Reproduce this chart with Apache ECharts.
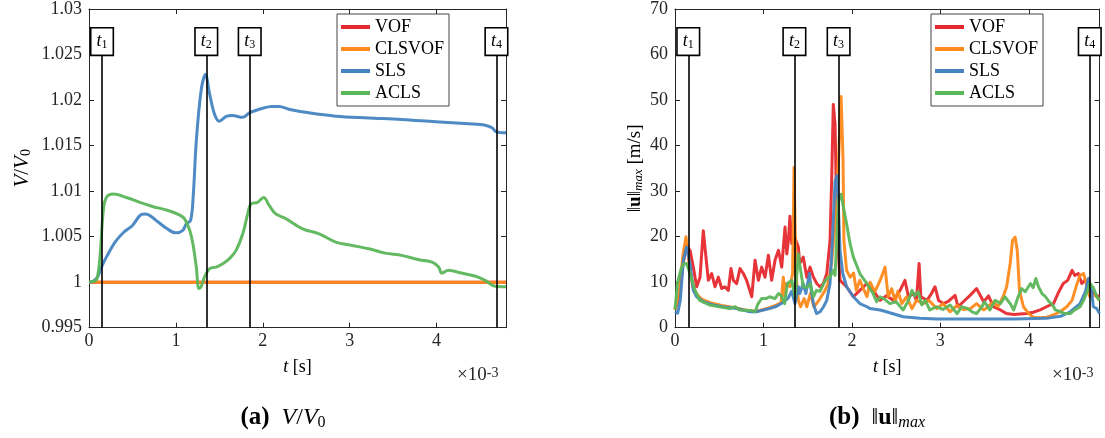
<!DOCTYPE html>
<html><head><meta charset="utf-8">
<script src="https://cdn.jsdelivr.net/npm/echarts@6/dist/echarts.min.js"></script>
<style>html,body{margin:0;padding:0;background:#fff}#c{width:1105px;height:438px}</style>
</head><body><div id="c"></div>
<script>
// ---------- data (t in units of 1e-3 s) ----------
const seriesNames = ['VOF', 'CLSVOF', 'SLS', 'ACLS'];
const xTicksLabel = '×10';

// event markers t1..t4
const tMarks = [0.15, 1.35, 1.85, 4.69];

// (a) V/V0
const volFlatT = [0, 4.8];
const volVOF = [1.0, 1.0];
const volCLSVOF = [1.0, 1.0];
const volSLST = [0, 0.05, 0.1, 0.15, 0.2, 0.3, 0.4, 0.5, 0.6, 0.65, 0.7, 0.8, 0.9, 1.0, 1.08, 1.12, 1.17, 1.2, 1.235, 1.29, 1.34, 1.39, 1.445, 1.5, 1.58, 1.65, 1.77, 1.846, 2.0, 2.1, 2.19, 2.3, 2.53, 2.84, 3.22, 3.6, 3.99, 4.37, 4.56, 4.64, 4.69, 4.8];
const volSLS = [1.0, 1.0001, 1.0006, 1.0018, 1.00275, 1.0044, 1.00548, 1.00622, 1.00742, 1.0075, 1.00731, 1.00658, 1.00586, 1.00542, 1.0057, 1.0064, 1.0068, 1.0095, 1.0155, 1.021, 1.0228, 1.0206, 1.01845, 1.01768, 1.0182, 1.0183, 1.0181, 1.01859, 1.0191, 1.0193, 1.0193, 1.0190, 1.0186, 1.01823, 1.01804, 1.01787, 1.01761, 1.01739, 1.01724, 1.01695, 1.0165, 1.0164];
const volACLST = [0, 0.05, 0.09, 0.126, 0.164, 0.2, 0.28, 0.43, 0.585, 0.74, 0.89, 1.04, 1.10, 1.16, 1.196, 1.235, 1.265, 1.29, 1.33, 1.39, 1.464, 1.54, 1.617, 1.693, 1.77, 1.827, 1.866, 1.94, 2.01, 2.076, 2.15, 2.27, 2.46, 2.65, 2.84, 3.03, 3.22, 3.41, 3.6, 3.8, 3.95, 4.025, 4.06, 4.14, 4.29, 4.45, 4.56, 4.675, 4.8];
const volACLS = [1.0, 1.0001, 1.0003, 1.00275, 1.0078, 1.0093, 1.00967, 1.0093, 1.00876, 1.00829, 1.00793, 1.0074, 1.00695, 1.00567, 1.00422, 1.00166, 0.9993, 0.99948, 1.00057, 1.00149, 1.00166, 1.00203, 1.00258, 1.00349, 1.00531, 1.00749, 1.0086, 1.00876, 1.0093, 1.0084, 1.0075, 1.00695, 1.00586, 1.00531, 1.0044, 1.00403, 1.00367, 1.00319, 1.00294, 1.00247, 1.00221, 1.00166, 1.001, 1.0013, 1.001, 1.00065, 1.0002, 0.99955, 0.9995];

// (b) ||u||max [m/s]
const uVOFT = [0, 0.05, 0.09, 0.13, 0.17, 0.207, 0.245, 0.283, 0.32, 0.35, 0.377, 0.415, 0.452, 0.49, 0.528, 0.565, 0.603, 0.633, 0.66, 0.698, 0.735, 0.773, 0.81, 0.868, 0.905, 0.943, 0.98, 1.018, 1.056, 1.093, 1.131, 1.17, 1.207, 1.244, 1.264, 1.282, 1.30, 1.32, 1.35, 1.395, 1.41, 1.45, 1.49, 1.527, 1.565, 1.603, 1.64, 1.678, 1.716, 1.753, 1.773, 1.79, 1.81, 1.83, 1.866, 1.94, 2.017, 2.09, 2.17, 2.206, 2.24, 2.32, 2.39, 2.47, 2.545, 2.60, 2.64, 2.70, 2.73, 2.76, 2.78, 2.85, 2.90, 2.94, 2.98, 3.035, 3.09, 3.167, 3.2, 3.26, 3.337, 3.41, 3.49, 3.545, 3.6, 3.68, 3.75, 3.83, 3.9, 3.98, 4.05, 4.13, 4.2, 4.28, 4.34, 4.39, 4.44, 4.49, 4.52, 4.56, 4.60, 4.64, 4.675, 4.73, 4.8];
const uVOF = [4, 7, 14, 18, 17.0, 13.3, 9.0, 11.1, 21.3, 15.5, 10.4, 11.9, 9.0, 11.1, 8.6, 9.0, 8.2, 13.0, 10.4, 9.7, 13.0, 11.9, 10.4, 6.8, 14.8, 10.4, 13.3, 11.1, 15.9, 10.4, 14.8, 17.0, 13.3, 22.1, 16.2, 19.1, 24.5, 18.5, 20, 17.7, 14.1, 15.5, 11.1, 13.3, 11.1, 9.7, 9.0, 9.7, 11.9, 19.1, 33.7, 49.0, 44.6, 22.8, 10.4, 9.0, 6.8, 8.2, 9.7, 8.6, 8.2, 6.0, 7.0, 6.0, 8.2, 10.4, 6.8, 7.5, 6.0, 14.1, 6.8, 6.0, 7.5, 9.0, 6.0, 5.3, 5.8, 7.1, 4.6, 5.7, 7.1, 8.6, 5.7, 7.0, 4.6, 3.9, 3.1, 2.9, 3.0, 3.1, 3.4, 3.9, 4.6, 5.3, 7.9, 9.7, 10.4, 12.6, 11.5, 11.9, 9.7, 10.5, 8.6, 7.5, 6.8];
const uCLSVOFT = [0, 0.05, 0.09, 0.124, 0.16, 0.2, 0.25, 0.3, 0.4, 0.55, 0.7, 0.85, 0.92, 1.0, 1.1, 1.15, 1.2, 1.225, 1.24, 1.26, 1.30, 1.33, 1.346, 1.36, 1.37, 1.395, 1.42, 1.46, 1.49, 1.53, 1.57, 1.6, 1.64, 1.697, 1.73, 1.77, 1.81, 1.85, 1.878, 1.9, 1.91, 1.94, 1.98, 2.02, 2.05, 2.09, 2.17, 2.206, 2.26, 2.32, 2.375, 2.41, 2.45, 2.49, 2.52, 2.565, 2.62, 2.68, 2.73, 2.81, 2.87, 2.96, 3.03, 3.11, 3.19, 3.26, 3.34, 3.41, 3.49, 3.52, 3.6, 3.65, 3.71, 3.75, 3.79, 3.816, 3.846, 3.87, 3.895, 3.94, 4.0, 4.05, 4.13, 4.2, 4.28, 4.355, 4.43, 4.49, 4.54, 4.58, 4.62, 4.66, 4.69, 4.75, 4.8];
const uCLSVOF = [4, 8, 16, 20.0, 14, 9, 7.3, 6.3, 5.5, 4.8, 4.3, 3.7, 3.6, 4.0, 4.6, 5.0, 5.5, 11.1, 7, 9.7, 9.0, 12, 35.2, 20, 11.1, 6.0, 4.6, 6.4, 4.6, 7.5, 4.6, 5.3, 6.4, 8.2, 9.7, 14.1, 22.8, 37.3, 50.8, 37, 19.1, 12.6, 11.1, 12, 8.2, 10.4, 6.8, 10.0, 7.9, 10.4, 13.3, 6.8, 8.6, 5.7, 8.0, 5.3, 6.8, 4.2, 6.0, 5.3, 6.0, 4.2, 5.3, 3.5, 4.9, 4.0, 4.2, 5.3, 3.9, 4.3, 5.7, 4.6, 6.8, 9.0, 14.1, 19.1, 19.9, 17.0, 8.2, 4.6, 3.1, 2.3, 2.2, 2.3, 2.8, 3.5, 4.6, 6.0, 9.3, 11.5, 11.9, 9.0, 6.8, 7.2, 6.0];
const uSLST = [0, 0.03, 0.06, 0.094, 0.13, 0.17, 0.207, 0.245, 0.32, 0.433, 0.547, 0.70, 0.848, 0.92, 1.0, 1.07, 1.15, 1.225, 1.28, 1.32, 1.357, 1.395, 1.41, 1.45, 1.48, 1.52, 1.54, 1.565, 1.60, 1.64, 1.68, 1.716, 1.753, 1.78, 1.81, 1.83, 1.848, 1.866, 1.897, 1.94, 2.017, 2.09, 2.17, 2.206, 2.32, 2.39, 2.58, 2.77, 2.96, 3.34, 3.83, 4.2, 4.36, 4.47, 4.58, 4.64, 4.675, 4.71, 4.73, 4.77, 4.8];
const uSLS = [3.5, 3.2, 6, 14.8, 17.7, 14.1, 8.2, 6.8, 5.7, 5.0, 4.6, 4.2, 3.5, 3.5, 3.9, 4.2, 4.7, 5.6, 6.5, 8.0, 5.3, 9.0, 7.5, 9.7, 7.5, 11.9, 8.2, 5.3, 3.1, 3.5, 4.6, 6.0, 9.7, 19.1, 32.2, 33.4, 26.4, 17.0, 11.9, 9.0, 6.8, 5.3, 4.6, 4.2, 3.9, 3.5, 2.4, 2.05, 1.9, 1.9, 1.9, 2.05, 2.5, 3.5, 5.3, 7.9, 10.8, 8.2, 4.6, 4.2, 3.1];
const uACLST = [0, 0.03, 0.07, 0.1, 0.12, 0.13, 0.17, 0.226, 0.28, 0.39, 0.5, 0.62, 0.68, 0.73, 0.85, 0.905, 0.94, 0.98, 1.03, 1.07, 1.13, 1.17, 1.2, 1.24, 1.27, 1.32, 1.357, 1.395, 1.42, 1.45, 1.49, 1.53, 1.565, 1.6, 1.64, 1.68, 1.716, 1.753, 1.79, 1.81, 1.85, 1.878, 1.90, 1.94, 1.98, 2.017, 2.09, 2.17, 2.24, 2.28, 2.32, 2.36, 2.43, 2.5, 2.58, 2.64, 2.68, 2.71, 2.75, 2.79, 2.83, 2.88, 2.96, 3.03, 3.11, 3.19, 3.24, 3.3, 3.36, 3.41, 3.47, 3.5, 3.56, 3.62, 3.68, 3.73, 3.79, 3.83, 3.88, 3.92, 3.96, 4.02, 4.05, 4.08, 4.11, 4.15, 4.19, 4.23, 4.27, 4.3, 4.36, 4.41, 4.47, 4.52, 4.58, 4.62, 4.66, 4.69, 4.73, 4.77, 4.8];
const uACLS = [4, 10, 13, 14.1, 14.5, 14.1, 11.9, 8.2, 6.0, 5.0, 4.6, 4.2, 4.6, 3.9, 3.8, 3.5, 5.3, 6.4, 6.4, 6.8, 6.4, 7.5, 7.1, 5.3, 9.7, 10.4, 6.8, 16.2, 12.6, 9.0, 8.8, 9.7, 6.8, 8.2, 8.0, 9.7, 10.8, 11.1, 12.6, 11.5, 27.9, 29.3, 26.9, 22.8, 18.4, 15.5, 11.9, 9.7, 7.5, 5.7, 6.8, 6.4, 5.3, 5.7, 3.9, 6.0, 8.2, 7.0, 7.9, 5.0, 6.0, 3.9, 4.6, 4.0, 5.0, 3.1, 4.6, 4.3, 3.5, 3.1, 4.6, 5.7, 3.9, 6.0, 5.3, 6.8, 5.3, 3.9, 6.8, 8.6, 7.9, 9.7, 8.8, 10.8, 9.0, 7.5, 6.8, 5.7, 5.0, 3.9, 3.5, 3.1, 3.1, 3.9, 4.6, 6.0, 7.9, 9.7, 8.8, 6.8, 6.0];

// ---------- styling ----------
const FONT = '"Liberation Serif","DejaVu Serif",serif';
const AX = '#262626';
const COLORS = {VOF: '#e6292e', CLSVOF: '#ff8a1c', SLS: '#4584c0', ACLS: '#5cb65a'};
const zip = (t, v) => t.map((x, i) => [x, v[i]]);

const RICH = {
  i: {fontFamily: FONT, fontStyle: 'italic', fontSize: 18, color: '#000'},
  s: {fontFamily: FONT, fontSize: 12, verticalAlign: 'bottom', lineHeight: 10, color: '#000'},
  si: {fontFamily: FONT, fontStyle: 'italic', fontSize: 13, verticalAlign: 'bottom', lineHeight: 10, color: '#000'},
  b: {fontFamily: FONT, fontWeight: 'bold', fontSize: 19, color: '#000'},
  ii: {fontFamily: FONT, fontStyle: 'italic', fontSize: 21, color: '#000'},
  ss: {fontFamily: FONT, fontSize: 14, verticalAlign: 'bottom', lineHeight: 11, color: '#000'},
  n: {fontFamily: FONT, fontSize: 21, color: '#000'}
};

function xAx(gi, pos, show) {
  return {type: 'value', gridIndex: gi, position: pos, min: 0, max: 4.8, interval: 1,
    name: show ? '{i|t} [s]' : '', nameLocation: 'middle', nameGap: 31,
    nameTextStyle: {fontFamily: FONT, fontSize: 18, color: '#000', rich: RICH},
    axisLine: {show: true, onZero: false, lineStyle: {color: AX, width: 1}},
    axisTick: {show: true, inside: true, length: 5, lineStyle: {color: AX}},
    axisLabel: {show: show, margin: 5, fontFamily: 'Liberation Serif', fontSize: 18, color: AX, showMaxLabel: false},
    splitLine: {show: false}};
}
function yAx(gi, pos, show, min, max, iv, name, gap) {
  return {type: 'value', gridIndex: gi, position: pos, min: min, max: max, interval: iv,
    name: show ? name : '', nameLocation: 'middle', nameGap: gap,
    nameTextStyle: {fontFamily: FONT, fontSize: 19, color: '#000', rich: RICH},
    axisLine: {show: true, onZero: false, lineStyle: {color: AX, width: 1}},
    axisTick: {show: true, inside: true, length: 5, lineStyle: {color: AX}},
    axisLabel: {show: show, margin: 7, fontFamily: 'Liberation Serif', fontSize: 18, color: AX},
    splitLine: {show: false}};
}
function line(name, data, xi, yi, smooth) {
  return {type: 'line', name: name, data: data, xAxisIndex: xi, yAxisIndex: yi,
    showSymbol: false, symbol: 'none', smooth: smooth, color: COLORS[name],
    lineStyle: {width: 3, color: COLORS[name], join: 'round', opacity: 0.95},
    animation: false, z: 2};
}
function marks(xi, yi, yMin, yTop) {
  return {type: 'line', name: '_marks', data: [], xAxisIndex: xi, yAxisIndex: yi, z: 10,
    markLine: {silent: true, symbol: ['none', 'none'], animation: false,
      lineStyle: {color: '#000', width: 1.6, type: 'solid'},
      label: {show: true, position: 'end', distance: 0,
        formatter: p => '{i|t}{s|' + (p.name || (p.dataIndex + 1)) + '}',
        backgroundColor: '#fff', borderColor: '#000', borderWidth: 1.6,
        padding: [4, 5, 4, 5], fontFamily: FONT, fontSize: 18, color: '#000', rich: RICH},
      emphasis: {disabled: true},
      data: tMarks.map((t, i) => [{name: String(i + 1), coord: [t, yMin]}, {name: String(i + 1), coord: [t, yTop]}])
    }};
}
function legend(left) {
  return {data: seriesNames, left: left, top: 14, orient: 'vertical', selectedMode: false,
    backgroundColor: '#fff', borderColor: '#444', borderWidth: 1, padding: [3, 5, 3, 4],
    itemGap: 2, itemWidth: 29, itemHeight: 4, icon: 'rect',
    textStyle: {fontFamily: FONT, fontSize: 18, color: '#000', lineHeight: 20}};
}

const chart = echarts.init(document.getElementById('c'), null, {renderer: 'canvas'});
chart.setOption({
  animation: false,
  backgroundColor: '#fff',
  grid: [{left: 89, top: 7, width: 417, height: 320.7}, {left: 675, top: 7, width: 424.5, height: 320.7}],
  xAxis: [xAx(0, 'bottom', true), xAx(0, 'top', false), xAx(1, 'bottom', true), xAx(1, 'top', false)],
  yAxis: [
    yAx(0, 'left', true, 0.995, 1.03, 0.005, '{ii|V}{n|/}{ii|V}{ss|0}', 56),
    yAx(0, 'right', false, 0.995, 1.03, 0.005, '', 0),
    yAx(1, 'left', true, 0, 70, 10, '‖{b|u}‖{si|max} [m/s]', 30),
    yAx(1, 'right', false, 0, 70, 10, '', 0)
  ],
  legend: [legend(337), legend(931)],
  series: [
    line('VOF', zip(volFlatT, volVOF), 0, 0, false),
    line('CLSVOF', zip(volFlatT, volCLSVOF), 0, 0, false),
    line('SLS', zip(volSLST, volSLS), 0, 0, 0.35),
    line('ACLS', zip(volACLST, volACLS), 0, 0, 0.35),
    marks(0, 0, 0.995, 1.025),
    line('VOF', zip(uVOFT, uVOF), 2, 2, false),
    line('CLSVOF', zip(uCLSVOFT, uCLSVOF), 2, 2, false),
    line('SLS', zip(uSLST, uSLS), 2, 2, false),
    line('ACLS', zip(uACLST, uACLS), 2, 2, false),
    marks(2, 2, 0, 60)
  ],
  graphic: [
    {type: 'text', x: 457, y: 366, style: {text: xTicksLabel + '{sup|-3}', fontFamily: FONT, fontSize: 19, fill: AX,
      rich: {sup: {fontFamily: FONT, fontSize: 14, verticalAlign: 'top', lineHeight: 10}}}},
    {type: 'text', x: 1052, y: 366, style: {text: xTicksLabel + '{sup|-3}', fontFamily: FONT, fontSize: 19, fill: AX,
      rich: {sup: {fontFamily: FONT, fontSize: 14, verticalAlign: 'top', lineHeight: 10}}}},
    {type: 'text', x: 283, y: 418, style: {text: '{b|(a)}  {i|V}/{i|V}{s|0}', align: 'center', verticalAlign: 'middle',
      fontFamily: FONT, fontSize: 24, fill: '#000',
      rich: {b: {fontFamily: FONT, fontWeight: 'bold', fontSize: 25}, i: {fontFamily: FONT, fontStyle: 'italic', fontSize: 24},
        s: {fontFamily: FONT, fontSize: 16, verticalAlign: 'bottom', lineHeight: 12}}}},
    {type: 'text', x: 877, y: 418, style: {text: '{b|(b)}  ‖{bu|u}‖{s|max}', align: 'center', verticalAlign: 'middle',
      fontFamily: FONT, fontSize: 24, fill: '#000',
      rich: {b: {fontFamily: FONT, fontWeight: 'bold', fontSize: 25}, bu: {fontFamily: FONT, fontWeight: 'bold', fontSize: 24},
        s: {fontFamily: FONT, fontStyle: 'italic', fontSize: 16, verticalAlign: 'bottom', lineHeight: 12}}}}
  ]
});
</script></body></html>
